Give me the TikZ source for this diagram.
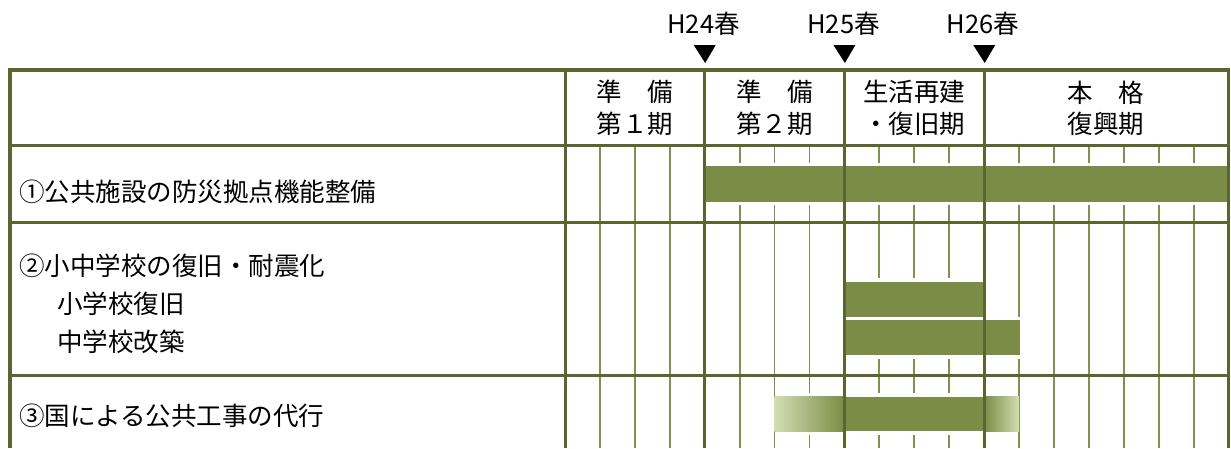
\documentclass[tikz,border=0pt]{standalone}
\usepackage{fontspec}
\usetikzlibrary{calc}
\setmainfont{Noto Sans CJK JP}
\definecolor{majorc}{HTML}{5A6630}
\definecolor{minorc}{HTML}{7E9150}
\definecolor{barc}{HTML}{7A8C45}
\definecolor{barlight}{HTML}{D3DDB3}
\tikzset{
  txt/.style={inner sep=0pt, font=\fontsize{25.5pt}{30pt}\selectfont, text=black},
  lbl/.style={txt, anchor=base west},
  hdr/.style={txt, anchor=base},
  majorline/.style={draw=majorc, line width=3pt},
  borderline/.style={draw=majorc, line width=3.5pt},
  minorline/.style={draw=minorc, line width=1.8pt},
  barfill/.style={fill=barc},
  halo/.style={fill=white},
  marker/.style={fill=black}
}
\begin{document}
\begin{tikzpicture}[x=1pt,y=-1pt]
\useasboundingbox (0,0) rectangle (1231,448);
\fill[white] (0,0) rectangle (1231,448);
% column positions
\def\cw{34.93}
% minor vertical lines
\foreach \k in {1,2,3,5,6,7,9,10,11,13,14,15,16,17,18}{
  \draw[minorline] ({565+\k*\cw},145) -- ({565+\k*\cw},448);
}
% horizontal lines
\draw[majorline] (10,145) -- (1228.7,145);
\draw[majorline] (10,222) -- (1228.7,222);
\draw[majorline] (10,375) -- (1228.7,375);
% bar halos
\fill[halo] (704.7,162.5) rectangle (1228.7,205);
\fill[halo] (844.4,278.2) rectangle (984.2,320);
\fill[halo] (844.4,316.7) rectangle (1020,358.5);
\fill[halo] (776,393) rectangle (1018,434.5);
% bars
\fill[barfill] (704.7,166) rectangle (1228.7,201.5);
\fill[barfill] (844.4,281.7) rectangle (984.2,316.7);
\fill[barfill] (844.4,320) rectangle (1020,355);
\shade[left color=barlight, right color=barc] (774.6,396.5) rectangle (844.4,431);
\fill[barfill] (844.4,396.5) rectangle (984.2,431);
\shade[left color=barc, right color=barlight] (984.2,396.5) rectangle (1019.1,431);
% major vertical lines
\coordinate (m0) at (565,70);
\coordinate (m1) at (704.7,70);
\coordinate (m2) at (844.4,70);
\coordinate (m3) at (984.2,70);
\foreach \m in {m0,m1,m2,m3}{
  \draw[majorline] (\m) -- ++(0,378);
}
% borders
\draw[borderline] (10,448) -- (10,70) -- (1228.7,70) -- (1228.7,448);
% markers
\foreach \m in {m1,m2,m3}{
  \fill[marker] ($(\m)+(-11,-25)$) -- ($(\m)+(11,-25)$) -- ($(\m)+(0.5,-7)$) -- cycle;
}
\node[hdr] (t24) at (703.5,33.5) {H24春};
\node[hdr] (t25) at (843.5,33.5) {H25春};
\node[hdr] (t26) at (983,33.5) {H26春};
% header texts
\node[hdr] (h1a) at (635,101.3) {準　備};
\node[hdr] (h1b) at (635,133) {第１期};
\node[hdr] (h2a) at (774.6,101.3) {準　備};
\node[hdr] (h2b) at (774.6,133) {第２期};
\node[hdr] (h3a) at (914.3,101.3) {生活再建};
\node[hdr] (h3b) at (914.3,133) {・復旧期};
\node[hdr] (h4a) at (1106,102.5) {本　格};
\node[hdr] (h4b) at (1106,133.5) {復興期};
% row labels
\node[lbl] (r1) at (19,201.6) {①公共施設の防災拠点機能整備};
\node[lbl] (r2) at (19,275.6) {②小中学校の復旧・耐震化};
\node[lbl] (r2a) at (57,313.6) {小学校復旧};
\node[lbl] (r2b) at (57,351.6) {中学校改築};
\node[lbl] (r3) at (19,425.6) {③国による公共工事の代行};
\end{tikzpicture}
\end{document}
